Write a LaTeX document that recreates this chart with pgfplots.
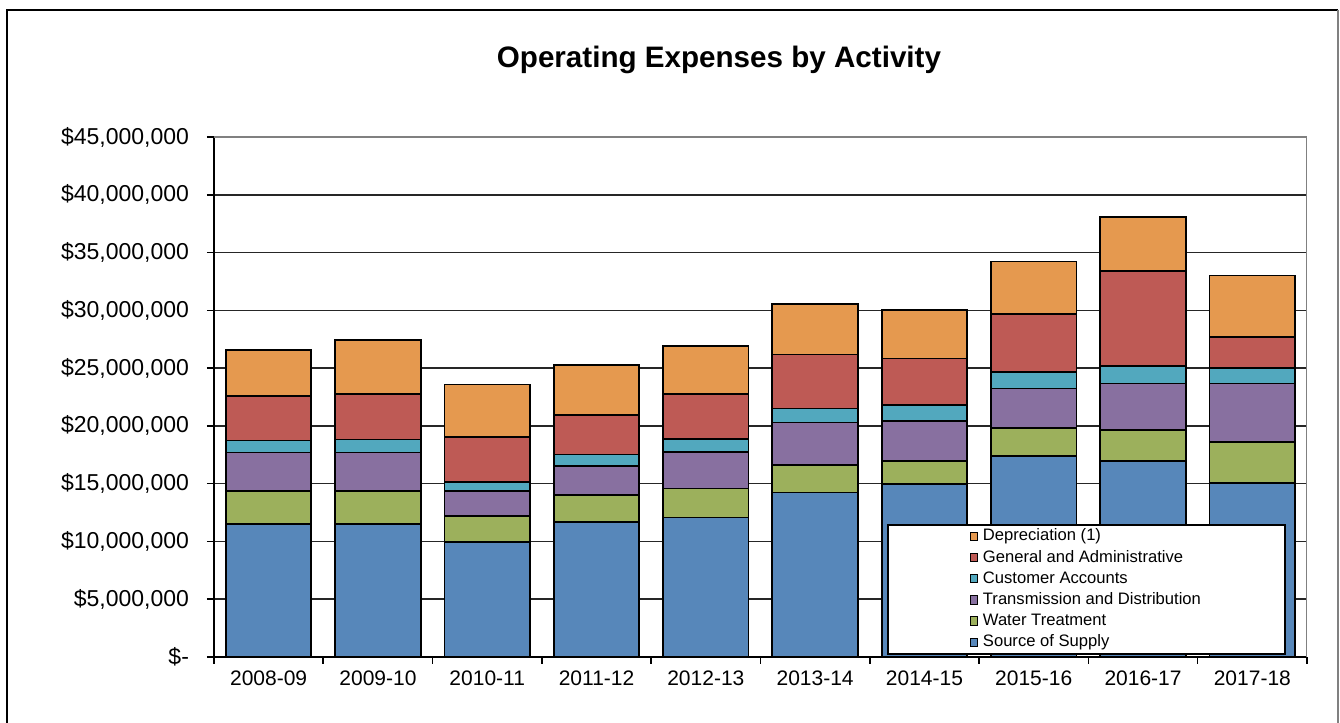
\documentclass[border=0pt]{standalone}
\usepackage{fontspec}
\setmainfont{Liberation Sans}
\usepackage{pgfplots}
\usepackage{pgfplotstable}
\pgfplotsset{compat=1.18}

\definecolor{supply}{HTML}{5787BA}
\definecolor{water}{HTML}{9CB05C}
\definecolor{trans}{HTML}{8870A0}
\definecolor{cust}{HTML}{52A8BE}
\definecolor{admin}{HTML}{BE5A55}
\definecolor{depr}{HTML}{E5994F}

% expenses in dollars, one row per fiscal year
\pgfplotstableread{
x src wt td ca ga dep
0 11530000 2830000 3340000 1040000 3840000 3980000
1 11530000 2830000 3340000 1130000 3920000 4670000
2  9980000 2220000 2160000  810000 3860000 4560000
3 11680000 2330000 2540000  980000 3380000 4350000
4 12080000 2510000 3120000 1130000 3890000 4150000
5 14240000 2370000 3690000 1210000 4670000 4360000
6 14940000 2020000 3480000 1390000 4010000 4180000
7 17420000 2420000 3400000 1440000 4990000 4560000
8 16960000 2680000 4030000 1530000 8190000 4700000
9 15080000 3550000 5040000 1360000 2680000 5310000
}\costs

\begin{document}
\begin{tikzpicture}
\useasboundingbox (-107pt,-33pt) rectangle (563pt,328.5pt);
\draw[black, line width=0.9pt] (-103.5pt,-40pt) -- (-103.5pt,323.5pt) -- (562pt,323.5pt);
\draw[gray, line width=0.9pt] (562pt,323.5pt) -- (562pt,-40pt);
\begin{axis}[
  scale only axis,
  width=546.5pt, height=260pt,
  ybar stacked,
  bar width=42.75pt,
  xmin=-0.5, xmax=9.5,
  ymin=0, ymax=45000000,
  scaled y ticks=false,
  axis lines=left,
  axis line style={-, black, line width=1pt},
  xtick={0,...,9},
  xticklabels={2008-09,2009-10,2010-11,2011-12,2012-13,2013-14,2014-15,2015-16,2016-17,2017-18},
  minor xtick={-0.5,0.5,...,9.5},
  major x tick style={draw=none},
  tick align=outside,
  tick style={black, line width=0.8pt},
  major tick length=3.5pt, minor tick length=3.5pt,
  ytick={0,5000000,...,45000000},
  yticklabels={\$-,{\$5,000,000},{\$10,000,000},{\$15,000,000},{\$20,000,000},{\$25,000,000},{\$30,000,000},{\$35,000,000},{\$40,000,000},{\$45,000,000}},
  yticklabel style={font=\fontsize{11.5}{13}\selectfont, xshift=-5.5pt},
  xticklabel style={font=\fontsize{10.5}{12}\selectfont},
  ymajorgrids,
  grid style={black!85, line width=0.8pt},
  title={Operating Expenses by Activity},
  title style={font=\fontsize{14.8}{17}\selectfont\bfseries, at={(axis description cs:0.462,1.125)}, anchor=center},
  every axis plot/.append style={draw=black, line width=0.9pt},
  reverse legend,
  legend cell align=left,
  legend image code/.code={\draw[#1, line width=0.5pt] (0pt,-2pt) rectangle (3.5pt,2.2pt);},
  legend style={at={(axis description cs:0.6157,0.0038)}, anchor=south west,
    draw=black, line width=1pt, inner xsep=41pt, inner ysep=0.5pt,
    font=\fontsize{8.3}{10}\selectfont,
    /tikz/every odd column/.append style={column sep=1.5pt},
    nodes={text height=6.2pt, text depth=1.8pt, inner ysep=1.3pt, inner xsep=1pt}},
]
\addplot[fill=supply] table[x=x, y=src] {\costs};
\addlegendentry{Source of Supply}
\addplot[fill=water] table[x=x, y=wt] {\costs};
\addlegendentry{Water Treatment}
\addplot[fill=trans] table[x=x, y=td] {\costs};
\addlegendentry{Transmission and Distribution}
\addplot[fill=cust] table[x=x, y=ca] {\costs};
\addlegendentry{Customer Accounts}
\addplot[fill=admin] table[x=x, y=ga] {\costs};
\addlegendentry{General and Administrative}
\addplot[fill=depr] table[x=x, y=dep] {\costs};
\addlegendentry{Depreciation (1)}
\draw[gray, line width=0.8pt] (rel axis cs:0,1) -- (rel axis cs:1,1) -- (rel axis cs:1,0);
\end{axis}
\end{tikzpicture}
\end{document}
